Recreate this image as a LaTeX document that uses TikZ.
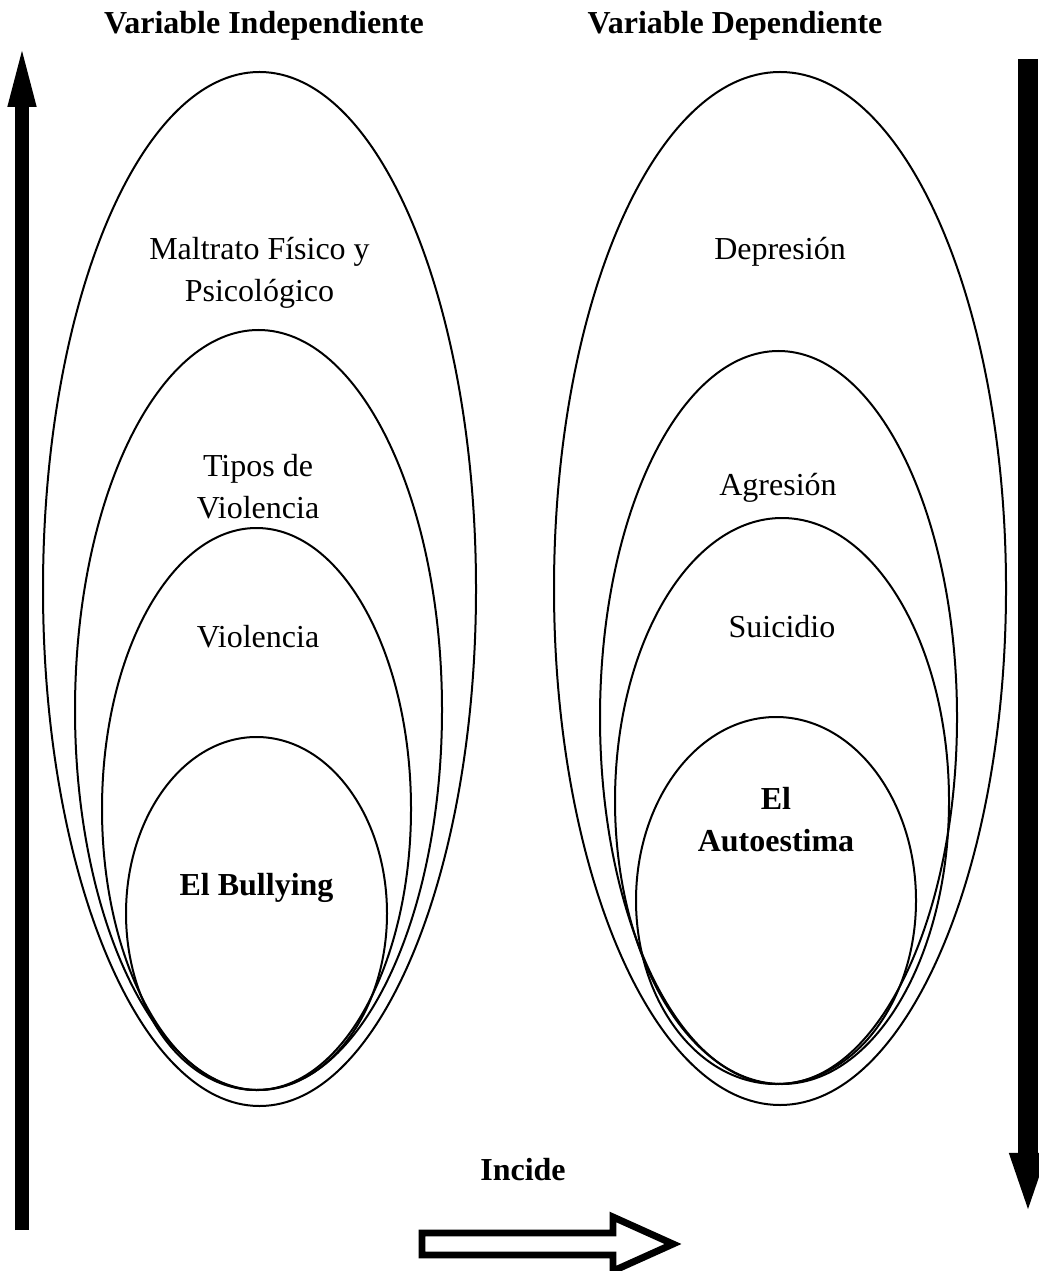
\documentclass[tikz,border=0pt]{standalone}
\usepackage{fontspec}
\setmainfont{Liberation Serif}
\usetikzlibrary{arrows.meta}

\begin{document}
\begin{tikzpicture}[x=0.375pt, y=-0.375pt, anchor=base,
                    lbl/.style={inner sep=0pt, align=center, font=\fontsize{12}{15.75}\selectfont},
                    hdr/.style={lbl, font=\fontsize{12}{15.75}\selectfont\bfseries},
                    ring/.style={draw, line width=0.75pt}]
                            \useasboundingbox (0,0) rectangle (1038,1271);

                            \node[hdr] (vi) at (264,34) {Variable Independiente};
                            \node[hdr] (vd) at (735,34) {Variable Dependiente};

                            \draw[ring] (259.5,589) ellipse [x radius=216.5, y radius=517];
                            \draw[ring] (258.5,710) ellipse [x radius=183.5, y radius=380];
                            \draw[ring] (256.5,809) ellipse [x radius=154.5, y radius=281];
                            \draw[ring] (256.5,913.5) ellipse [x radius=130.5, y radius=176.5];

                            \draw[ring] (780,588.5) ellipse [x radius=226, y radius=516.5];
                            \draw[ring] (778.5,717.5) ellipse [x radius=178.5, y radius=366.5];
                            \draw[ring] (782,801) ellipse [x radius=167, y radius=283];
                            \draw[ring] (776,900.5) ellipse [x radius=140, y radius=183.5];

                            \node[lbl] (maltrato) at (259.5,302) {Maltrato Físico y\\Psicológico};
                            \node[lbl] (tipos) at (258,518) {Tipos de\\Violencia};
                            \node[lbl] (violencia) at (258,647) {Violencia};
                            \node[hdr] (bullying) at (256.5,895) {El Bullying};

                            \node[lbl] (depresion) at (780,260) {Depresión};
                            \node[lbl] (agresion) at (778,495) {Agresión};
                            \node[lbl] (suicidio) at (782,637) {Suicidio};
                            \node[hdr] (autoestima) at (776,851) {El\\Autoestima};

                            \node[hdr] (incide) at (523,1180) {Incide};

                            \coordinate (sube0) at (22,1230);
                            \coordinate (sube1) at (22,37);
                            \coordinate (baja0) at (1028,59);
                            \coordinate (baja1) at (1028,1218);
                            \draw[line width=5.25pt, -{Triangle[length=26.25pt, width=9pt]}] (sube0) -- (sube1);
                            \draw[line width=7.5pt, -{Triangle[length=24.4pt, width=12pt]}] (baja0) -- (baja1);

                            \draw[line width=2.6pt, miter limit=10] (422,1233) -- (613,1233) -- (613,1217) -- (673,1244)
                                -- (613,1271) -- (613,1255) -- (422,1255) -- cycle;
                        \end{tikzpicture}
\end{document}
